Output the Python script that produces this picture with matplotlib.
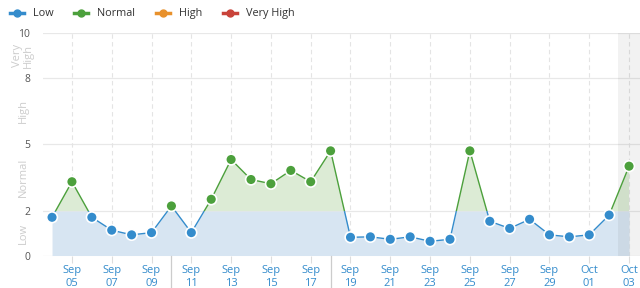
import numpy as np
import matplotlib as mpl
import matplotlib.pyplot as plt
from matplotlib.lines import Line2D

mpl.rcParams['font.family'] = ['Open Sans', 'DejaVu Sans']

# data
days = ['Sep 04', 'Sep 05', 'Sep 06', 'Sep 07', 'Sep 08', 'Sep 09', 'Sep 10',
        'Sep 11', 'Sep 12', 'Sep 13', 'Sep 14', 'Sep 15', 'Sep 16', 'Sep 17',
        'Sep 18', 'Sep 19', 'Sep 20', 'Sep 21', 'Sep 22', 'Sep 23', 'Sep 24',
        'Sep 25', 'Sep 26', 'Sep 27', 'Sep 28', 'Sep 29', 'Sep 30', 'Oct 01',
        'Oct 02', 'Oct 03']
values = [1.72, 3.32, 1.72, 1.14, 0.93, 1.03, 2.23, 1.03, 2.53, 4.32,
          3.42, 3.23, 3.83, 3.32, 4.71, 0.82, 0.84, 0.73, 0.84, 0.64,
          0.73, 4.71, 1.54, 1.22, 1.63, 0.93, 0.84, 0.93, 1.82, 4.02]
band_ticks = [0, 2, 5, 8, 10]
band_names = ['Low', 'Normal', 'High', 'Very\nHigh']
legend_names = ['Low', 'Normal', 'High', 'Very High']
legend_colors = ['#348ccc', '#4ca03c', '#e8912c', '#c9433a']

blue = '#348ccc'
green = '#4ca03c'
thr = 2

x = np.arange(len(values))
y = np.array(values, dtype=float)

# insert crossing points at the Low/Normal border
xs, ys = [x[0]], [y[0]]
for i in range(len(x) - 1):
    y0, y1 = y[i], y[i + 1]
    if (y0 - thr) * (y1 - thr) < 0:
        t = (thr - y0) / (y1 - y0)
        xs.append(x[i] + t)
        ys.append(thr)
    xs.append(x[i + 1])
    ys.append(y1)
xs = np.array(xs)
ys = np.array(ys)

fig = plt.figure(figsize=(6.4, 2.88), dpi=100)
ax = fig.add_axes([0.0667, 0.1128, 0.9333, 0.7716])

ax.set_xlim(-0.47, 29.55)
ax.set_ylim(0, 10)

# grid
for v in band_ticks:
    ax.axhline(v, color='#e8e8e8', lw=0.9, zorder=0)
for xi in x[1::2]:
    ax.axvline(xi, color='#e4e4e4', lw=0.8, ls=(0, (4, 3)), zorder=0)

ax.fill_between(xs, 0, np.minimum(ys, thr), color='#d7e5f2', lw=0, zorder=1)
ax.fill_between(xs, thr, ys, where=ys >= thr, color='#dcebd5', lw=0, zorder=1)

ax.axvspan(28.45, 29.55, color='black', alpha=0.05, lw=0, zorder=2)

for i in range(len(xs) - 1):
    above = (ys[i] + ys[i + 1]) / 2 > thr
    ax.plot(xs[i:i + 2], ys[i:i + 2], color=green if above else blue,
            lw=1.0, zorder=3, solid_capstyle='butt')

cols = [green if v > thr else blue for v in y]
ax.scatter(x, y, s=60, c=cols, edgecolors='white', linewidths=1.2, zorder=4)

for s in ax.spines.values():
    s.set_visible(False)

ax.set_yticks(band_ticks)
ax.set_yticklabels([str(v) for v in band_ticks], color='#555555', fontsize=7.5)
ax.tick_params(axis='y', length=0, pad=9)

ax.set_xticks(x[1::2])
ax.set_xticklabels([d.replace(' ', '\n') for d in days[1::2]], color=blue,
                   fontsize=8, linespacing=1.2)
ax.tick_params(axis='x', length=5, color='#dddddd', pad=2)

# separators below the axis
for xi in [6, 14]:
    ax.plot([xi, xi], [0, -1.45], color='#cccccc', lw=0.9, clip_on=False)

# band labels
for lo, hi, name in zip(band_ticks[:-1], band_ticks[1:], band_names):
    ax.text(-0.033, (lo + hi) / 2, name, transform=ax.get_yaxis_transform(),
            rotation=90, ha='center', va='center', color='#cccccc',
            fontsize=8, linespacing=1.0)

handles = [Line2D([0], [0], color=c, lw=2.5, marker='o', markersize=5)
           for c in legend_colors]
fig.legend(handles, legend_names, loc='upper left', bbox_to_anchor=(0.0, 1.005),
           ncol=4, frameon=False, fontsize=7.8, handlelength=1.3,
           columnspacing=1.95, handletextpad=0.8, labelcolor='#333333')

fig.savefig('out.png', dpi=100)
